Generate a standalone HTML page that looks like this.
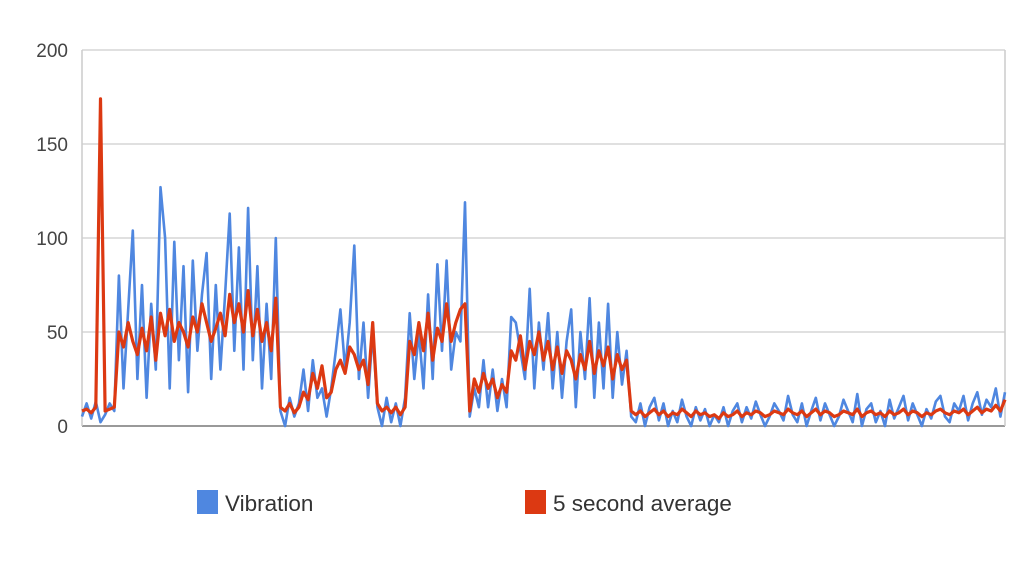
<!DOCTYPE html>
<html><head><meta charset="utf-8"><style>
body{margin:0;background:#fff;font-family:"Liberation Sans",Arial,sans-serif;}
svg{display:block}
</style></head><body>
<svg id="chart" width="1024" height="576"></svg>
<script>
const yTicks=[0,50,100,150,200];
const avgSeries=[8,9,7,10,174,8,9,10,50,42,55,45,38,52,40,58,35,60,48,62,45,55,50,42,58,50,65,55,45,52,60,48,70,55,65,50,72,48,62,45,55,40,68,10,8,12,7,10,18,14,28,20,32,15,18,30,35,28,42,38,30,35,22,55,12,8,10,7,10,6,10,45,38,55,40,60,35,52,45,65,45,55,62,65,8,25,18,28,20,25,15,22,18,40,35,48,30,45,38,50,35,45,30,42,28,40,35,25,38,30,45,28,40,32,42,25,38,30,35,8,
6,8,5,7,9,6,8,5,7,6,
9,7,5,8,6,7,5,6,4,7,
5,6,8,5,7,6,8,7,5,6,
8,7,6,9,7,6,8,5,7,9,
6,8,7,5,6,8,7,6,9,5,
7,8,6,7,5,8,6,7,9,6,
8,7,5,7,6,8,9,7,6,8,
7,9,6,8,10,7,9,8,11,8,14];
const vibSeries=[5,12,4,13,2,6,12,8,80,20,62,104,25,75,15,65,30,127,100,20,98,35,85,18,88,40,70,92,25,75,30,70,113,40,95,30,116,35,85,20,65,25,100,8,0,15,5,12,30,8,35,15,20,5,20,40,62,30,55,96,25,55,15,50,10,0,15,2,12,0,15,60,25,50,20,70,25,86,40,88,30,50,45,119,5,20,10,35,10,30,8,25,10,58,55,40,25,73,20,55,30,60,20,50,15,45,62,10,50,25,68,15,55,20,65,15,50,22,40,5,
2,12,0,10,15,3,12,0,8,2,
14,5,0,10,3,9,0,6,2,10,
0,8,12,2,10,4,13,6,0,5,
12,8,3,16,6,2,12,0,8,15,
3,12,6,0,5,14,8,2,17,0,
9,12,2,8,0,14,4,10,16,3,
12,6,0,9,4,13,16,5,2,12,
8,16,3,12,18,6,14,10,20,5,18];
const NS='http://www.w3.org/2000/svg';
const svg=document.getElementById('chart');
const L=82,R=1005,T=50,B=426;
const n=Math.max(avgSeries.length,vibSeries.length);
const xS=i=>L+i*(R-L)/(n-1);
const yS=v=>B-v*(B-T)/200;
function mk(t,a){const e=document.createElementNS(NS,t);for(const k in a)e.setAttribute(k,a[k]);svg.appendChild(e);return e;}
for(const t of yTicks){
  const g=mk('line',{x1:L,x2:R,y1:yS(t),y2:yS(t),stroke:t===0?'#999':'#d6d6d6','stroke-width':t===0?2:1.5});
  
  
  const tx=mk('text',{x:68,y:yS(t)+7,'text-anchor':'end','font-size':19,fill:'#444'});
  tx.textContent=t;
  
  
}
const lb=mk('line',{x1:L,x2:L,y1:T,y2:B,stroke:'#ccc','stroke-width':1.5});


const rb=mk('line',{x1:R,x2:R,y1:T,y2:B,stroke:'#ccc','stroke-width':1.5});


function line(arr,col,w,name){
  const p=mk('polyline',{points:arr.map((v,i)=>xS(i).toFixed(1)+','+yS(v).toFixed(1)).join(' '),fill:'none',stroke:col,'stroke-width':w,'stroke-linejoin':'round'});
  
  
}
line(vibSeries,'#4f87e0',2.6,'vibration-line');
line(avgSeries,'#dc3912',3.2,'average-line');
function legend(x,col,label,name){
  const r=mk('rect',{x:x,y:490,width:21,height:24,fill:col});
  
  
  const t=mk('text',{x:x+28,y:511,'font-size':22.5,fill:'#333'});
  t.textContent=label;
  
  
}
legend(197,'#4f87e0','Vibration','legend-vibration');
legend(525,'#dc3912','5 second average','legend-average');
</script>
</body></html>
